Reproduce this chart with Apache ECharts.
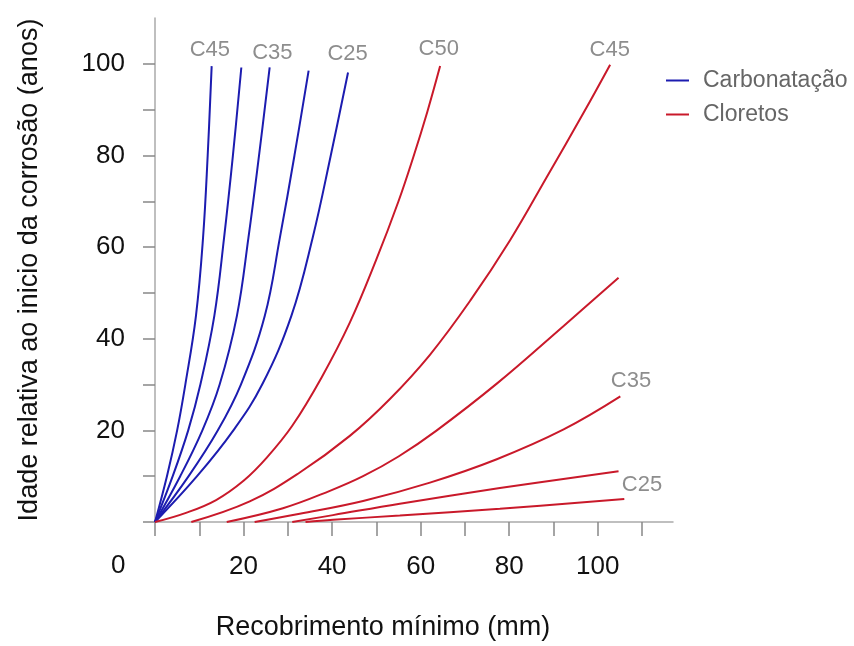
<!DOCTYPE html>
<html>
<head>
<meta charset="utf-8">
<script src="https://cdn.jsdelivr.net/npm/echarts@6/dist/echarts.min.js"></script>
<style>
  html, body { margin: 0; padding: 0; background: #fff; }
  #chart { width: 854px; height: 646px; }
</style>
</head>
<body>
<div id="chart"></div>
<script>
// curvas de carbonatação (x = recobrimento mm, y = anos)
var carb1 = [[0,0],[2.7,10],[5.0,20],[6.85,30],[9.25,45],[10.85,62],[11.9,80],[12.8,99.5]];
var carb2 = [[0,0],[4.0,10],[7.5,20],[10.25,30],[13.4,45],[15.6,62],[17.6,80],[19.5,99.2]];
var carb3 = [[0,0],[5.7,10],[10.7,20],[14.6,30],[18.5,45],[21.1,62],[23.5,80],[25.9,99.2]];
var carb4 = [[0,0],[7.6,10],[14.2,20],[19.4,30],[24.8,45],[28.2,62],[31.5,80],[34.7,98.5]];
var carb5 = [[0,0],[9.5,10],[17.7,20],[24.2,30],[30.8,45],[35.6,62],[39.7,80],[43.6,98.1]];

// curvas de cloretos
var clor1 = [[0,0],[7,2],[13.8,4.8],[20,9],[25.2,14],[31,21],[37.6,31.5],[44,43.5],[50,57.3],[55,70],[58.3,79.5],[61.5,89.5],[64.4,99.5]];
var clor2 = [[8.2,0],[21.4,4.5],[32.7,10.8],[44,18.8],[53,26.8],[62.1,36.5],[71.2,48.3],[80.2,61.5],[88.5,75.3],[96.8,89.3],[102.8,99.8]];
var clor3 = [[16.2,0],[28.9,3.0],[39.5,6.8],[47,10],[55,14.3],[63.5,19.9],[77.2,30.2],[92.3,42.8],[104.7,53.3]];
var clor4 = [[22.5,0],[32.7,1.8],[47,4.6],[62.1,8.6],[77.2,13.7],[92.3,20.2],[105.1,27.4]];
var clor5 = [[31,0],[40.2,1.5],[55.3,4.0],[77.9,7.4],[104.7,11.1]];
var clor6 = [[34,0],[40.2,0.5],[55.3,1.4],[77.9,2.9],[106,5]];

// rótulos das curvas
var labelText = ['C45', 'C35', 'C25', 'C50', 'C45', 'C35', 'C25'];
var labelX = [12.4, 26.5, 43.5, 64.1, 102.7, 107.5, 110.0];
var labelY = [103.0, 102.4, 102.2, 103.2, 103.0, 30.8, 8.1];

var blue = '#1c1cb0';
var red = '#c9192a';
var font = 'Liberation Sans';

var myChart = echarts.init(document.getElementById('chart'));

function mkLine(name, data, color) {
    return {
        name: name,
        type: 'line',
        data: data,
        smooth: 0.4,
        showSymbol: false,
        lineStyle: { color: color, width: 2 },
        itemStyle: { color: color },
        silent: true
    };
}

var series = [];
[carb1, carb2, carb3, carb4, carb5].forEach(function (d) {
    series.push(mkLine('Carbonatação', d, blue));
});
[clor1, clor2, clor3, clor4, clor5, clor6].forEach(function (d) {
    series.push(mkLine('Cloretos', d, red));
});

var labelData = [];
for (var i = 0; i < labelText.length; i++) {
    labelData.push({ value: [labelX[i], labelY[i]], name: labelText[i] });
}
series.push({
    type: 'scatter',
    data: labelData,
    symbolSize: 0,
    silent: true,
    clip: false,
    label: {
        show: true,
        position: 'inside',
        formatter: '{b}',
        color: '#707070',
        fontSize: 22,
        fontFamily: font
    }
});

// só mostra 20, 40, ... (o 0 vai no canto)
var tickLab = function (v) {
    return (v > 0 && v % 20 === 0) ? String(v) : '';
};

var option = {
    animation: false,
    textStyle: { fontFamily: font },
    grid: { left: 155, top: 18, right: 181, bottom: 122 },
    legend: {
        data: ['Carbonatação', 'Cloretos'],
        orient: 'vertical',
        left: 661,
        top: 64,
        icon: 'rect',
        itemWidth: 23,
        itemHeight: 2,
        itemGap: 11,
        textStyle: { color: '#666', fontSize: 23, fontFamily: font, padding: [0, 0, 0, 9] }
    },
    xAxis: {
        type: 'value',
        min: 0,
        max: 117,
        interval: 10,
        name: 'Recobrimento mínimo (mm)',
        nameLocation: 'middle',
        nameGap: 92,
        nameTextStyle: { color: '#111', fontSize: 27, padding: [0, 62, 0, 0] },
        axisLine: { lineStyle: { color: '#aaa', width: 1.5 } },
        axisTick: { length: 14, lineStyle: { color: '#888', width: 1.5 } },
        axisLabel: { formatter: tickLab, color: '#111', fontSize: 26, margin: 32, showMaxLabel: false },
        splitLine: { show: false }
    },
    yAxis: {
        type: 'value',
        min: 0,
        max: 110,
        interval: 10,
        name: 'Idade relativa ao inicio da corrosão (anos)',
        nameLocation: 'middle',
        nameGap: 112,
        nameTextStyle: { color: '#111', fontSize: 27 },
        axisLine: { show: true, lineStyle: { color: '#aaa', width: 1.5 } },
        axisTick: { show: true, length: 12, lineStyle: { color: '#888', width: 1.5 } },
        axisLabel: { formatter: tickLab, color: '#111', fontSize: 26, margin: 30, showMaxLabel: false },
        splitLine: { show: false }
    },
    graphic: [{
        type: 'text',
        left: 111,
        top: 553,
        style: { text: '0', fill: '#111', fontSize: 26, fontFamily: font }
    }],
    series: series
};

myChart.setOption(option);
</script>
</body>
</html>
